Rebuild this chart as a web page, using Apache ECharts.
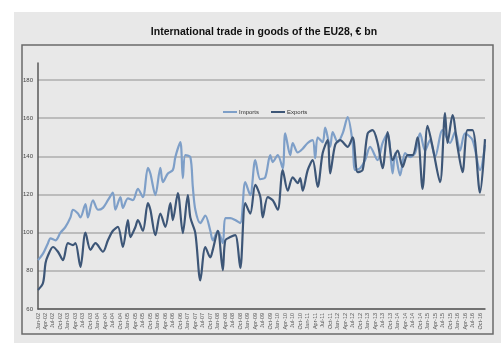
<!DOCTYPE html>
<html>
<head>
<meta charset="utf-8">
<script src="https://cdn.jsdelivr.net/npm/echarts@6/dist/echarts.min.js"></script>
<style>
  html, body { margin: 0; padding: 0; background: #fff; }
  #chart { width: 501px; height: 343px; }
</style>
</head>
<body>
<div id="chart"></div>
<script>
// month labels on the x axis (one category per month)
var years = ['02','03','04','05','06','07','08','09','10','11','12','13','14','15','16'];
var monthNames = ['Jan','Feb','Mar','Apr','May','Jun','Jul','Aug','Sep','Oct','Nov','Dec'];
var categories = [];
for (var y = 0; y < years.length; y++) {
    for (var m = 0; m < 12; m++) categories.push(monthNames[m] + '-' + years[y]);
}

// values (€ bn), with the month index they sit at
var importsIdx = [0, 2, 4, 5, 7, 9, 11, 13, 14, 16, 17, 19, 20, 22, 24, 26, 28, 30, 31, 33, 34, 36, 38, 40, 42, 44,
    45, 47, 49, 50, 52, 54, 55, 57, 58, 59, 61, 62, 63, 65, 67, 69, 70, 72, 74, 75, 77, 79, 81, 83, 85, 87, 89,
    91, 93, 94, 96, 98, 99, 101, 102, 104, 106, 108, 110, 111, 112, 114, 115, 117, 118, 120, 122, 124, 126, 127,
    129, 131, 133, 136, 138, 140, 142, 143, 145, 147, 149, 151, 153, 155, 157, 159, 162, 165, 167, 169, 171, 174,
    177, 179];
var importsVal = [85.6, 89, 94.5, 97, 96, 100, 103, 108, 112, 110, 108, 115, 108, 117, 112, 113, 117, 121, 112, 118.6,
    113, 118, 117, 123, 118.6, 134, 131, 119.7, 134, 126.5, 131, 132.8, 139.6, 147.4, 128.6, 140.6, 139.6, 124, 112,
    105, 109, 101, 96, 101, 94.5, 107.6, 107.6, 106.6, 105, 126.5, 119.7, 138, 128, 129, 140.6, 137, 140.6, 133.8,
    152, 140.6, 147, 142, 144, 147, 148.5, 139, 150, 147.4, 155, 145, 152.7, 147.4, 152, 160.5, 147, 132.8, 133.8,
    138, 145, 138, 147, 152, 131, 141.7, 130, 141.7, 139.6, 141.7, 152, 143, 148.5, 139.6, 153.7, 147, 152.7, 143,
    152, 148.5, 132.8, 146];

var exportsIdx = [0, 2, 3, 4, 6, 8, 10, 12, 14, 15, 17, 19, 21, 23, 26, 28, 30, 32, 34, 36, 37, 39, 40, 42, 44, 45,
    47, 49, 51, 53, 54, 56, 58, 60, 61, 63, 65, 67, 69, 70, 72, 74, 75, 77, 79, 81, 83, 85, 87, 89, 90, 92, 94, 96,
    98, 100, 102, 104, 105, 106, 108, 110, 112, 114, 116, 117, 119, 121, 124, 126, 128, 130, 132, 134, 136, 138,
    140, 142, 144, 146, 148, 150, 152, 154, 156, 158, 161, 163, 164, 166, 168, 170, 172, 174, 177, 179];
var exportsVal = [70, 73.6, 84, 88, 92.5, 90, 85.6, 94.5, 93.5, 94.5, 82, 100, 91, 94.5, 90, 96, 101, 103, 92.5,
    106.6, 97.7, 103, 106.6, 101, 115.5, 112, 98.7, 110, 103, 115.5, 106.6, 120.7, 99.8, 119.7, 108, 99.8, 75, 92.5,
    87, 91, 101, 80.4, 96, 97.7, 98.7, 81.5, 115.5, 110, 125, 119, 108, 118.6, 117, 112, 132.8, 122, 129, 126, 128.6,
    122, 132.8, 138, 124, 141.7, 148.5, 131, 146, 148.5, 145, 150, 131.7, 132.8, 152, 153.7, 147, 133.8, 152.7, 138,
    143, 134.5, 140.6, 140.6, 150, 123, 156, 145, 126.5, 162.6, 147, 161.6, 145, 131.7, 153.7, 153.7, 121, 149];

var yTicks = [60, 80, 100, 120, 140, 160, 180];

function pairs(idx, vals) {
    var out = [];
    for (var i = 0; i < idx.length; i++) out.push([idx[i], vals[i]]);
    return out;
}

var chart = echarts.init(document.getElementById('chart'));
var option = {
    animation: false,
    backgroundColor: '#ffffff',
    color: ['#7e9fc8', '#3d5677'],
    graphic: [
        { type: 'rect', z: -2, shape: { x: 14, y: 12, width: 487, height: 331 }, style: { fill: '#e8e8e8' } },
        { type: 'rect', z: -1, shape: { x: 22, y: 45, width: 471, height: 289 },
          style: { fill: 'none', stroke: '#6a6a6a', lineWidth: 1.5 } }
    ],
    title: {
        text: 'International trade in goods of the EU28, € bn',
        left: 259,
        top: 22,
        textAlign: 'center',
        textStyle: {
            fontFamily: "'Liberation Sans Narrow', 'Arial Narrow', 'Liberation Sans', sans-serif",
            fontWeight: 'bold',
            fontSize: 10.5,
            color: '#111'
        }
    },
    legend: {
        data: ['Imports', 'Exports'],
        left: 218,
        top: 104,
        icon: 'rect',
        itemWidth: 14,
        itemHeight: 2,
        itemGap: 12,
        textStyle: { fontSize: 6, color: '#333', padding: [0, 0, 0, -3] }
    },
    grid: [
        { left: 38, right: 16, top: 80, bottom: 34 },
        { left: 38, right: 16, top: 63, bottom: 34 }
    ],
    xAxis: [
        {
            type: 'category',
            gridIndex: 0,
            data: categories,
            boundaryGap: false,
            axisLine: { lineStyle: { color: '#5a5a5a', width: 1.5 } },
            axisTick: { show: false },
            axisLabel: { interval: 2, rotate: 90, fontSize: 5.5, color: '#555', margin: 4 }
        },
        { type: 'value', gridIndex: 1, show: false }
    ],
    yAxis: [
        {
            type: 'value',
            gridIndex: 0,
            min: yTicks[0],
            max: yTicks[yTicks.length - 1],
            interval: 20,
            axisLine: { show: false },
            axisTick: { show: false },
            axisLabel: { fontSize: 6, color: '#444', margin: 5 },
            splitLine: { lineStyle: { color: '#aeaeae', width: 1.5 } }
        },
        {
            type: 'value',
            gridIndex: 1,
            min: 0,
            max: 1,
            axisLine: { show: true, lineStyle: { color: '#5a5a5a', width: 1.5 } },
            axisTick: { show: false },
            axisLabel: { show: false },
            splitLine: { show: false }
        }
    ],
    series: [
        {
            name: 'Imports',
            type: 'line',
            xAxisIndex: 0,
            yAxisIndex: 0,
            symbol: 'none',
            smooth: 0.3,
            lineStyle: { width: 2.2 },
            data: pairs(importsIdx, importsVal)
        },
        {
            name: 'Exports',
            type: 'line',
            xAxisIndex: 0,
            yAxisIndex: 0,
            symbol: 'none',
            smooth: 0.3,
            lineStyle: { width: 2.2 },
            data: pairs(exportsIdx, exportsVal)
        }
    ]
};
chart.setOption(option);
</script>
</body>
</html>
